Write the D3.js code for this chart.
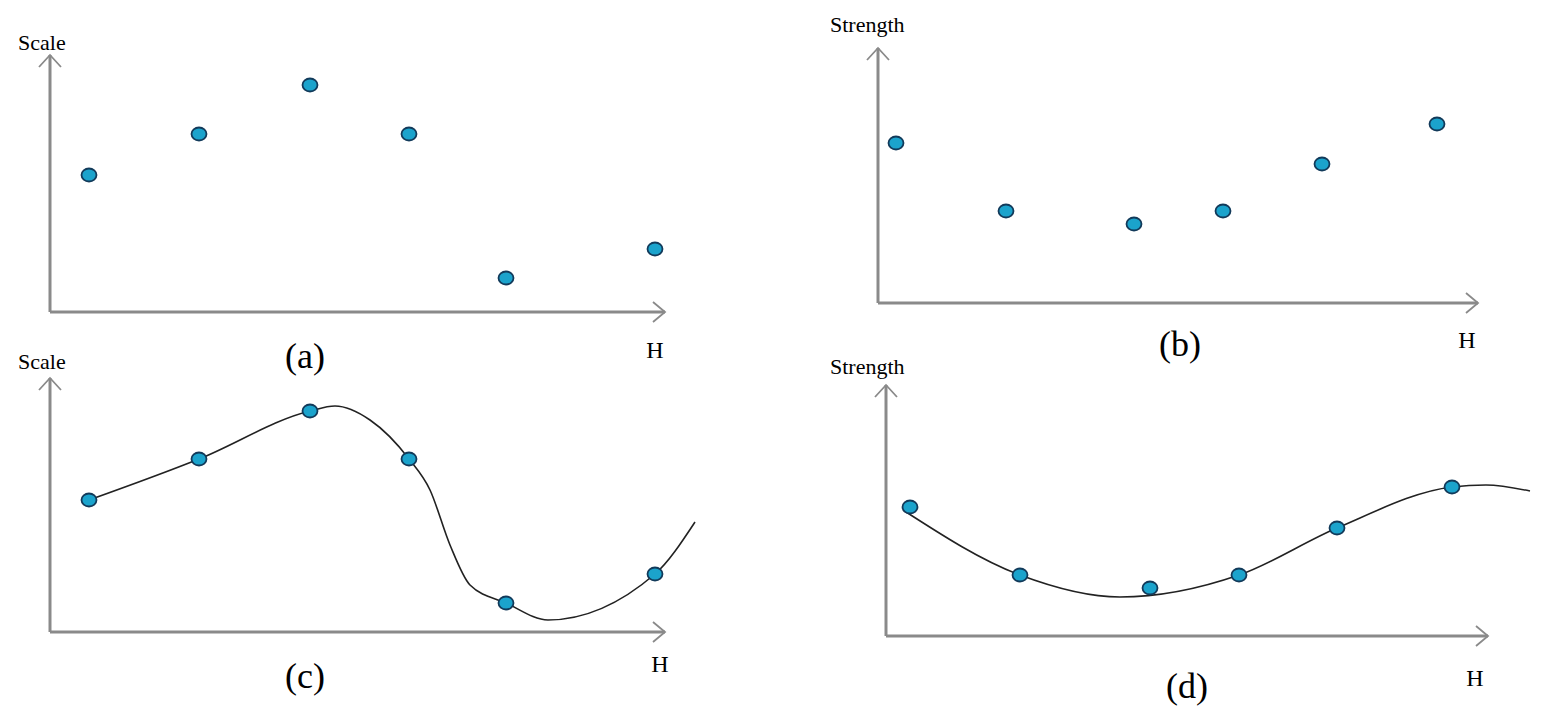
<!DOCTYPE html><html><head><meta charset="utf-8"><script src="https://cdn.jsdelivr.net/npm/d3@7"></script>
<style>body{margin:0;background:#fff}</style></head><body><svg id="c" width="1542" height="718"></svg><script>
const hA=[39,149,260,359,456,605], vA=[137,178,227,178,34,63];
const hB=[18,128,256,345,444,559], vB=[160,92,79,92,139,179];
const hC=[39,149,260,359,456,605], vC=[132,173,221,173,29,58];
const curveCH=[39,149,260,285,320,359,380,400,420,456,498,605,645], curveCV=[132,173,221,226,212,173,142,87,47,29,12,58,110];
const hD=[24,134,264,353,451,566], vD=[129,61,48,61,108,149];
const curveDH=[17,134,234,353,451,566,600,644], curveDV=[126,61,39,61,108,149,151,145];
const panels=[
 {h:hA,v:vA,ox:50,oy:312,xe:665,yt:55,yl:"Scale",lx:18,ly:50,tag:"(a)",tx:305,ty:368,Hx:655,Hy:358},
 {h:hB,v:vB,ox:878,oy:303,xe:1478,yt:48,yl:"Strength",lx:830,ly:32,tag:"(b)",tx:1180,ty:356,Hx:1467,Hy:348},
 {h:hC,v:vC,ox:50,oy:632,xe:665,yt:378,yl:"Scale",lx:18,ly:369,tag:"(c)",tx:305,ty:688,Hx:660,Hy:672,ch:curveCH,cv:curveCV},
 {h:hD,v:vD,ox:886,oy:636,xe:1488,yt:385,yl:"Strength",lx:830,ly:374,tag:"(d)",tx:1187,ty:698,Hx:1475,Hy:686,ch:curveDH,cv:curveDV}];
const svg=d3.select("#c");
const ax="#8a8a8a";
panels.forEach(p=>{
 const x=d3.scaleLinear().domain([0,p.xe-p.ox]).range([p.ox,p.xe]);
 const y=d3.scaleLinear().domain([0,p.oy-p.yt]).range([p.oy,p.yt]);
 const g=svg.append("g");
 g.append("line").attr("x1",x(0)).attr("y1",y(0)).attr("x2",x.range()[1]).attr("y2",y(0)).attr("stroke",ax).attr("stroke-width",3);
 g.append("line").attr("x1",x(0)).attr("y1",y(0)).attr("x2",x(0)).attr("y2",y.range()[1]).attr("stroke",ax).attr("stroke-width",3);
 const X=x.range()[1],Y=y(0),TX=x(0),TY=y.range()[1];
 g.append("path").attr("d",`M${X-12},${Y-10}L${X},${Y}L${X-12},${Y+10}`).attr("fill","none").attr("stroke",ax).attr("stroke-width",1.8);
 g.append("path").attr("d",`M${TX-11},${TY+12}L${TX},${TY}L${TX+11},${TY+12}`).attr("fill","none").attr("stroke",ax).attr("stroke-width",1.8);
 if(p.ch){
  const pts=p.ch.map((d,i)=>[x(d),y(p.cv[i])]);
  g.append("path").attr("d",d3.line().curve(d3.curveMonotoneX)(pts)).attr("fill","none").attr("stroke","#222").attr("stroke-width",1.6);
 }
 g.selectAll("ellipse").data(p.h).join("ellipse").attr("cx",d=>x(d)).attr("cy",(d,i)=>y(p.v[i])).attr("rx",7.5).attr("ry",6.5)
  .attr("fill","#1ba3cc").attr("stroke","#123a5a").attr("stroke-width",1.8);
 g.append("text").attr("x",p.lx).attr("y",p.ly).text(p.yl).attr("font-family","Liberation Serif").attr("font-size",22);
 g.append("text").attr("x",p.tx).attr("y",p.ty).text(p.tag).attr("font-family","Liberation Serif").attr("font-size",36).attr("text-anchor","middle");
 g.append("text").attr("x",p.Hx).attr("y",p.Hy).text("H").attr("font-family","Liberation Serif").attr("font-size",24).attr("text-anchor","middle");
});
</script></body></html>
